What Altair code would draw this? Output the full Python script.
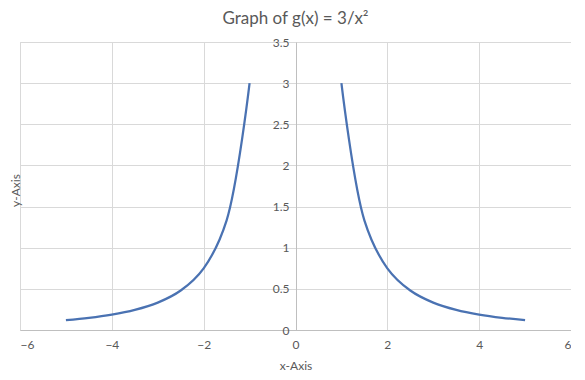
import altair as alt
import pandas as pd

# Left branch and right branch of g(x) = 3/x^2
left_x = [-5, -4.5, -4, -3.5, -3, -2.5, -2, -1.5, -1]
left_y = [0.12, 0.148, 0.1875, 0.245, 0.333, 0.48, 0.75, 1.333, 3]
right_x = [1, 1.5, 2, 2.5, 3, 3.5, 4, 4.5, 5]
right_y = [3, 1.333, 0.75, 0.48, 0.333, 0.245, 0.1875, 0.148, 0.12]

x_ticks = [-6, -4, -2, 0, 2, 4, 6]
y_ticks = [0, 0.5, 1, 1.5, 2, 2.5, 3, 3.5]

df = pd.DataFrame({
    "x": left_x + right_x,
    "y": left_y + right_y,
    "branch": ["left"] * len(left_x) + ["right"] * len(right_x),
})

W, H = 551, 288
font = "Lato"
grey = "#595959"

line = alt.Chart(df).mark_line(
    color="#4A72B2", strokeWidth=2.25, interpolate="catmull-rom"
).encode(
    x=alt.X("x:Q", scale=alt.Scale(domain=[-6, 6], nice=False),
            axis=alt.Axis(values=x_ticks, title="x-Axis", ticks=False,
                          domain=True, domainColor="#bfbfbf",
                          labelPadding=9, titlePadding=10,
                          labelFont=font, labelFontSize=12, labelColor=grey,
                          titleFont=font, titleFontSize=12, titleColor=grey,
                          titleFontWeight="normal",
                          grid=True, gridColor="#d9d9d9")),
    y=alt.Y("y:Q", scale=alt.Scale(domain=[0, 3.5], nice=False),
            axis=alt.Axis(values=y_ticks, title="y-Axis", ticks=False,
                          format="~g",
                          offset=-276, domain=True, domainColor="#bfbfbf",
                          labelPadding=7,
                          labelFont=font, labelFontSize=12, labelColor=grey,
                          titleFont=font, titleFontSize=12, titleColor=grey,
                          titleFontWeight="normal",
                          titleX=-281, titleY=H / 2 + 4, titleAngle=-90,
                          titleAlign="center", titleBaseline="middle",
                          grid=True, gridColor="#d9d9d9")),
    detail="branch:N",
)

chart = line.properties(
    width=W, height=H,
    title=alt.TitleParams("Graph of g(x) = 3/x²", font=font, fontSize=17,
                          fontWeight="normal", color=grey, anchor="middle",
                          offset=8),
    autosize=alt.AutoSizeParams(type="none"),
    padding={"left": 12, "top": 34, "right": 0, "bottom": 50},
).configure_view(stroke="#d9d9d9")

chart.save("out.html", embed_options={"renderer": "svg", "actions": False})
